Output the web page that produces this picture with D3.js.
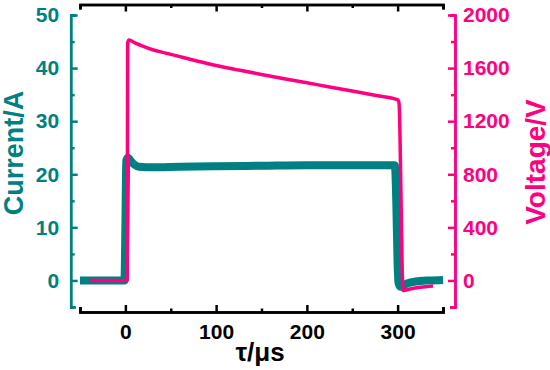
<!DOCTYPE html>
<html>
<head>
<meta charset="utf-8">
<script src="https://cdn.jsdelivr.net/npm/d3@7"></script>
<style>
  body { margin: 0; background: #fff; }
  text { font-family: "Liberation Sans", Arial, sans-serif; font-weight: bold; }
</style>
</head>
<body>
<script>
// current trace (teal), time in microseconds, amps
const currentTime = [-50, -1, 0, 1, 3, 6, 10, 15, 30, 60, 100, 150, 200, 250, 297, 298.5, 300, 301, 303, 305, 310, 320, 335, 350];
const currentValues = [0, 0, 10, 22.6, 23.1, 22.5, 21.8, 21.4, 21.3, 21.4, 21.5, 21.6, 21.7, 21.7, 21.7, 15, 3, -0.5, -1.2, -1.1, -0.6, -0.2, 0, 0.1];

// voltage trace (pink), volts
const voltageTime = [-40, 2, 2.5, 4, 10, 20, 30, 45, 60, 80, 100, 125, 150, 175, 200, 225, 250, 275, 300, 301.5, 306, 315, 325, 339];
const voltageValues = [0, 0, 1790, 1812, 1792, 1763, 1738, 1712, 1686, 1652, 1620, 1585, 1552, 1520, 1489, 1458, 1427, 1395, 1362, 1340, -75, -62, -52, -42];

// ticks
const xMajor = [0, 100, 200, 300];
const xMinor = [-50, 50, 150, 250, 350];
const curMajor = [0, 10, 20, 30, 40, 50];
const curMinor = [-5, 5, 15, 25, 35, 45];
const voltMajor = [0, 400, 800, 1200, 1600, 2000];
const voltMinor = [-200, 200, 600, 1000, 1400, 1800];

const WIDTH = 550;
const HEIGHT = 370;
const TEAL = '#008080';
const PINK = '#ff0080';

var xScale = d3.scaleLinear().domain([-50, 350]).range([80, 443]);
var yCur = d3.scaleLinear().domain([-5, 50]).range([307, 15]);
var yVolt = d3.scaleLinear().domain([-200, 2000]).range([307, 15]);

var translate = function(x, y) {
    return 'translate(' + x + ',' + y + ')';
};

var svg = d3.select('body').append('svg')
    .attr('width', WIDTH)
    .attr('height', HEIGHT);

var styleAxis = function(g, color, size) {
    g.attr('color', color)
        .attr('font-family', null)
        .attr('font-size', size);
    g.selectAll('path, line').attr('stroke-width', 2.5);
    g.selectAll('text').style('font-weight', 'bold');
};

// bottom axis
var gx = svg.append('g').attr('transform', translate(0, 312))
    .call(d3.axisBottom(xScale).tickValues(xMajor).tickSize(-7).tickSizeOuter(-5).tickPadding(12));
styleAxis(gx, '#000', 21);
var gx2 = svg.append('g').attr('transform', translate(0, 312))
    .call(d3.axisBottom(xScale).tickValues(xMinor).tickSize(-3.5).tickSizeOuter(-5).tickFormat(''));
styleAxis(gx2, '#000', 21);

// top axis
var gt = svg.append('g').attr('transform', translate(0, 4.5))
    .call(d3.axisTop(xScale).tickValues(xMajor).tickSize(-7).tickSizeOuter(-5).tickFormat(''));
styleAxis(gt, '#000', 21);
var gt2 = svg.append('g').attr('transform', translate(0, 4.5))
    .call(d3.axisTop(xScale).tickValues(xMinor).tickSize(-3.5).tickSizeOuter(-5).tickFormat(''));
styleAxis(gt2, '#000', 21);

// left axis (current)
var gl = svg.append('g').attr('transform', translate(70.7, 0))
    .call(d3.axisLeft(yCur).tickValues(curMajor).tickSize(-7).tickSizeOuter(-5).tickPadding(11.5));
styleAxis(gl, TEAL, 21);
var gl2 = svg.append('g').attr('transform', translate(70.7, 0))
    .call(d3.axisLeft(yCur).tickValues(curMinor).tickSize(-4).tickSizeOuter(-5).tickFormat(''));
styleAxis(gl2, TEAL, 21);

// right axis (voltage)
var gr = svg.append('g').attr('transform', translate(455, 0))
    .call(d3.axisRight(yVolt).tickValues(voltMajor).tickSize(-7).tickSizeOuter(-5).tickPadding(8).tickFormat(d3.format('d')));
styleAxis(gr, PINK, 21);
var gr2 = svg.append('g').attr('transform', translate(455, 0))
    .call(d3.axisRight(yVolt).tickValues(voltMinor).tickSize(-4).tickSizeOuter(-5).tickFormat(''));
styleAxis(gr2, PINK, 21);

// traces
var currentLine = d3.line()
    .x(function(d) { return xScale(d.t); })
    .y(function(d) { return yCur(d.v); })
    .curve(d3.curveMonotoneX);

var voltageLine = d3.line()
    .x(function(d) { return xScale(d.t); })
    .y(function(d) { return yVolt(d.v); })
    .curve(d3.curveMonotoneX);

var currentData = currentTime.map(function(t, i) { return {t: t, v: currentValues[i]}; });
var voltageData = voltageTime.map(function(t, i) { return {t: t, v: voltageValues[i]}; });

svg.append('path')
    .attr('d', currentLine(currentData))
    .attr('fill', 'none')
    .attr('stroke', TEAL)
    .attr('stroke-width', 8)
    .attr('stroke-linejoin', 'round');

svg.append('path')
    .attr('d', voltageLine(voltageData))
    .attr('fill', 'none')
    .attr('stroke', PINK)
    .attr('stroke-width', 3.5)
    .attr('stroke-linejoin', 'round');

// axis titles
svg.append('text')
    .attr('transform', translate(23, 153) + ' rotate(-90)')
    .attr('text-anchor', 'middle')
    .attr('font-size', 27)
    .attr('fill', TEAL)
    .text('Current/A');

svg.append('text')
    .attr('transform', translate(545, 162) + ' rotate(-90)')
    .attr('text-anchor', 'middle')
    .attr('font-size', 28)
    .attr('fill', PINK)
    .text('Voltage/V');

svg.append('text')
    .attr('x', 260)
    .attr('y', 361)
    .attr('text-anchor', 'middle')
    .attr('font-size', 26)
    .attr('fill', '#000')
    .text('τ/μs');
</script>
</body>
</html>
